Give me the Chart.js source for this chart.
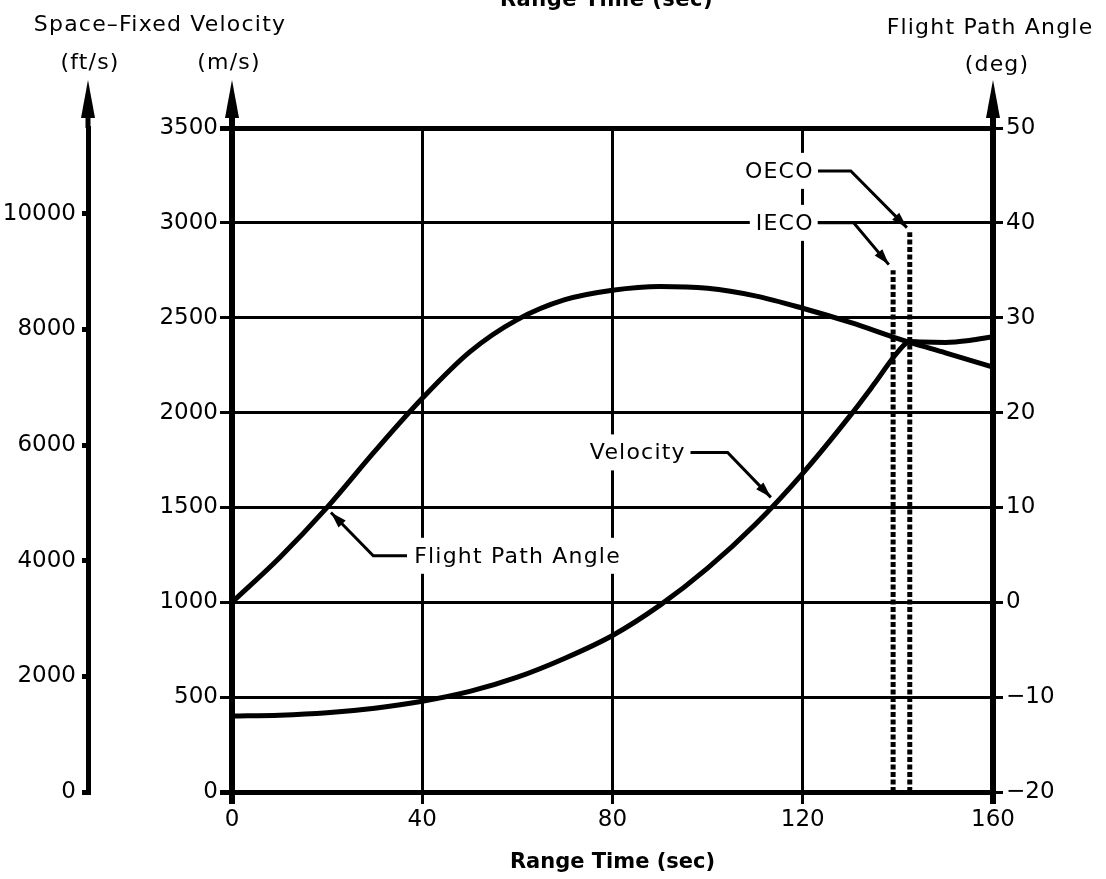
<!DOCTYPE html>
<html>
<head>
<meta charset="utf-8">
<script src="https://cdn.jsdelivr.net/npm/chart.js@4.4.1/dist/chart.umd.min.js"></script>
<style>
  html, body { margin: 0; padding: 0; background: #fff; }
  #wrap { width: 1106px; height: 879px; }
</style>
</head>
<body>
<div id="wrap"><canvas id="chart" width="1106" height="879"></canvas></div>
<script>
// --- dane ---
const velTime     = [0, 10, 20, 30, 40, 50, 60, 70, 80, 90, 100, 110, 120, 130, 135, 140, 142.5, 145, 150, 155, 160];
const velocityMS  = [400, 405, 418, 442, 478, 530, 605, 705, 825, 985, 1180, 1410, 1680, 1985, 2150, 2320, 2375, 2372, 2370, 2380, 2400];
const fpaTime     = [0, 10, 20, 30, 40, 50, 60, 70, 80, 90, 100, 110, 120, 130, 140, 142.5, 150, 160];
const fpaDeg      = [0, 4.7, 10, 15.9, 21.5, 26.4, 29.8, 31.9, 32.9, 33.3, 33.1, 32.3, 31, 29.5, 27.8, 27.4, 26.3, 24.8];
const cutoffNames = ['IECO', 'OECO'];
const cutoffTime  = [139, 142.5];
const cutoffTopMS = [2750, 2950];
const ftTicks     = [0, 2000, 4000, 6000, 8000, 10000];
const MS_TO_FT = 3.28084;

// opisy ze strzałkami (czas, m/s)
const callouts = [
  { text: 'Flight Path Angle', at: [38.3, 1245], align: 'left',  path: [[36.8, 1245], [29.7, 1245], [20.8, 1473]] },
  { text: 'Velocity',          at: [95.4, 1790], align: 'right', path: [[96.4, 1790], [104.2, 1790], [113.3, 1553]] },
  { text: 'OECO',              at: [122.3, 3274], align: 'right', path: [[123.2, 3274], [130.1, 3274], [141.9, 2975]] },
  { text: 'IECO',              at: [122.3, 3000], align: 'right', path: [[123.2, 3000], [130.7, 3000], [138.1, 2780]] },
];

const FONT = '"DejaVu Sans", Arial, sans-serif';
const INK = '#000';

function arrowHead(ctx, x0, y0, x1, y1, len, half) {
  const a = Math.atan2(y1 - y0, x1 - x0);
  ctx.beginPath();
  ctx.moveTo(x1, y1);
  ctx.lineTo(x1 - len * Math.cos(a) + half * Math.sin(a), y1 - len * Math.sin(a) - half * Math.cos(a));
  ctx.lineTo(x1 - len * Math.cos(a) - half * Math.sin(a), y1 - len * Math.sin(a) + half * Math.cos(a));
  ctx.closePath();
  ctx.fill();
}

const decor = {
  id: 'decor',
  beforeDraw(chart) {
    const ctx = chart.ctx;
    ctx.save();
    ctx.fillStyle = '#fff';
    ctx.fillRect(0, 0, chart.width, chart.height);
    ctx.restore();
  },
  afterDraw(chart) {
    const { ctx, chartArea, scales } = chart;
    const { x, y } = scales;
    ctx.save();
    ctx.fillStyle = INK;
    ctx.strokeStyle = INK;

    // osie ze strzałkami
    const axisX = [[scales.y2.right, 5], [scales.y.right, 6], [scales.y1.left, 6]];
    axisX.forEach(([ax, w]) => {
      ctx.lineWidth = w;
      ctx.beginPath();
      ctx.moveTo(ax, chartArea.top);
      ctx.lineTo(ax, 105);
      ctx.stroke();
      ctx.beginPath();
      ctx.moveTo(ax, 80);
      ctx.lineTo(ax - 7, 118);
      ctx.lineTo(ax + 7, 118);
      ctx.closePath();
      ctx.fill();
    });
    ctx.lineWidth = 6;
    [scales.y.right, scales.y1.left].forEach(ax => {
      ctx.beginPath();
      ctx.moveTo(ax, chartArea.bottom);
      ctx.lineTo(ax, chartArea.bottom + 12);
      ctx.stroke();
    });

    // tytuły osi
    ctx.textAlign = 'center';
    ctx.textBaseline = 'middle';
    ctx.font = `22px ${FONT}`;
    ctx.letterSpacing = '1.2px';
    ctx.fillText('Space\u2013Fixed Velocity', (scales.y2.right + scales.y.right) / 2, 25);
    ctx.fillText('Flight Path Angle', 990, 28);
    ctx.fillText('(ft/s)', scales.y2.right + 2, 63);
    ctx.fillText('(m/s)', scales.y.right - 3, 63);
    ctx.fillText('(deg)', scales.y1.left + 4, 65);

    // ucięty napis u góry
    ctx.font = `bold 21px ${FONT}`;
    ctx.letterSpacing = '0.5px';
    ctx.textBaseline = 'alphabetic';
    ctx.fillText('Range Time (sec)', (chartArea.left + chartArea.right) / 2 - 6, 6);

    // opisy
    ctx.font = `22px ${FONT}`;
    ctx.letterSpacing = '1.2px';
    ctx.textBaseline = 'middle';
    callouts.forEach(c => {
      const px = x.getPixelForValue(c.at[0]);
      const py = y.getPixelForValue(c.at[1]);
      const w = ctx.measureText(c.text).width;
      const left = c.align === 'left' ? px : px - w;
      ctx.fillStyle = '#fff';
      ctx.fillRect(left - 6, py - 18, w + 10, 36);
      ctx.fillStyle = INK;
      ctx.textAlign = 'left';
      ctx.fillText(c.text, left, py + 1);

      const pts = c.path.map(p => [x.getPixelForValue(p[0]), y.getPixelForValue(p[1])]);
      ctx.lineWidth = 3;
      ctx.beginPath();
      pts.forEach((p, i) => (i ? ctx.lineTo(p[0], p[1]) : ctx.moveTo(p[0], p[1])));
      ctx.stroke();
      const n = pts.length;
      arrowHead(ctx, pts[n - 2][0], pts[n - 2][1], pts[n - 1][0], pts[n - 1][1], 16, 5);
    });
    ctx.restore();
  }
};

const cutoffSets = cutoffNames.map((name, i) => ({
  label: name,
  data: [{ x: cutoffTime[i], y: 0 }, { x: cutoffTime[i], y: cutoffTopMS[i] }],
  yAxisID: 'y',
  borderColor: INK,
  borderWidth: 5,
  borderDash: [5, 2.5],
  borderCapStyle: 'butt',
  pointRadius: 0,
  fill: false,
}));

const tickFont = { family: FONT, size: 23 };
const plain = v => (v < 0 ? '\u2212' + Math.abs(v) : String(v));

new Chart(document.getElementById('chart'), {
  type: 'line',
  data: {
    datasets: [
      {
        label: 'Velocity',
        data: velTime.map((t, i) => ({ x: t, y: velocityMS[i] })),
        yAxisID: 'y',
        borderColor: INK,
        borderWidth: 5,
        pointRadius: 0,
        cubicInterpolationMode: 'monotone',
        fill: false,
      },
      {
        label: 'Flight Path Angle',
        data: fpaTime.map((t, i) => ({ x: t, y: fpaDeg[i] })),
        yAxisID: 'y1',
        borderColor: INK,
        borderWidth: 5,
        pointRadius: 0,
        cubicInterpolationMode: 'monotone',
        fill: false,
      },
      ...cutoffSets,
    ],
  },
  options: {
    responsive: false,
    animation: false,
    layout: { padding: { top: 128, left: 0, right: 0, bottom: 0 } },
    plugins: { legend: { display: false }, tooltip: { enabled: false } },
    scales: {
      x: {
        type: 'linear',
        min: 0,
        max: 160,
        ticks: { stepSize: 40, color: INK, font: tickFont, padding: 2, callback: plain },
        grid: { color: INK, lineWidth: 3, tickLength: 12 },
        border: { color: INK, width: 5 },
        title: {
          display: true,
          text: 'Range Time (sec)',
          color: INK,
          font: { family: FONT, size: 21, weight: 'bold' },
          padding: { top: 0, bottom: 4 },
        },
        afterFit: s => { s.height = 87; },
      },
      y: {
        position: 'left',
        weight: 0,
        min: 0,
        max: 3500,
        ticks: { stepSize: 500, color: INK, font: tickFont, padding: 2, callback: plain },
        grid: {
          color: INK,
          lineWidth: c => (c.tick && (c.tick.value === 0 || c.tick.value === 3500) ? 5 : 3),
          tickLength: 12,
        },
        border: { color: INK, width: 6 },
        afterFit: s => { s.width = 144; },
      },
      y2: {
        position: 'left',
        weight: 1,
        min: 0,
        max: 3500 * MS_TO_FT,
        ticks: { color: INK, font: tickFont, padding: 6, callback: plain },
        afterBuildTicks: s => { s.ticks = ftTicks.map(v => ({ value: v })); },
        grid: { drawOnChartArea: false, color: INK, lineWidth: 5, tickLength: 6 },
        border: { color: INK, width: 5 },
        afterFit: s => { s.width = 88; },
      },
      y1: {
        position: 'right',
        min: -20,
        max: 50,
        ticks: { stepSize: 10, color: INK, font: tickFont, padding: 3, callback: plain },
        grid: { drawOnChartArea: false, color: INK, lineWidth: 3, tickLength: 10 },
        border: { color: INK, width: 6 },
        afterFit: s => { s.width = 113; },
      },
    },
  },
  plugins: [decor],
});
</script>
</body>
</html>
